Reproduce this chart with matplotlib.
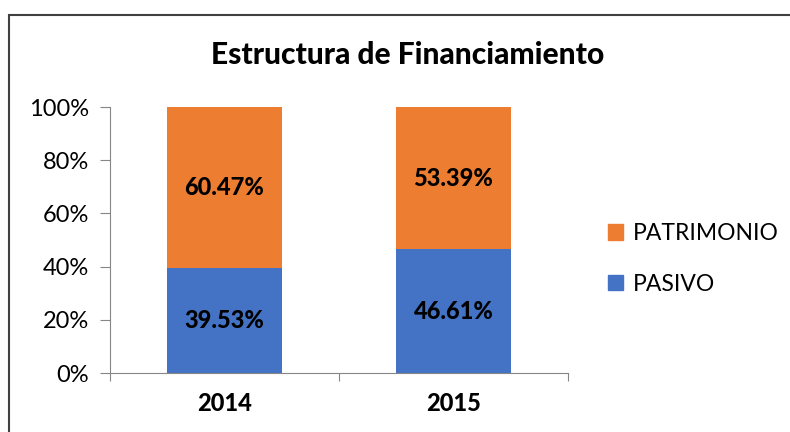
import matplotlib.pyplot as plt
from matplotlib.patches import Rectangle, Patch

years = ["2014", "2015"]
pasivo = [39.53, 46.61]
patrimonio = [60.47, 53.39]
c_pasivo = "#4472C4"
c_patr = "#ED7D31"

plt.rcParams['font.family'] = ['Lato', 'DejaVu Sans']

fig = plt.figure(figsize=(7.9, 4.32), dpi=100)
ax = fig.add_axes([110/790, 59/432, 458/790, 266/432])

x = range(len(years))
ax.bar(x, pasivo, width=0.5, color=c_pasivo)
ax.bar(x, patrimonio, width=0.5, bottom=pasivo, color=c_patr)

for i in x:
    ax.text(i, pasivo[i]/2, f"{pasivo[i]:.2f}%", ha="center", va="center",
            fontsize=17, fontweight="black")
    ax.text(i, pasivo[i] + patrimonio[i]/2, f"{patrimonio[i]:.2f}%", ha="center",
            va="center", fontsize=17, fontweight="black")

ax.set_xlim(-0.5, 1.5)
ax.set_ylim(0, 100)
ax.set_yticks([0, 20, 40, 60, 80, 100])
ax.set_yticklabels([f"{v}%" for v in [0, 20, 40, 60, 80, 100]], fontsize=17)
ax.set_xticks([-0.5, 0.5, 1.5])
ax.set_xticklabels([])
ax.set_xticks([0, 1], minor=True)
ax.set_xticklabels(years, minor=True, fontsize=17, fontweight="black")
ax.tick_params(axis="x", which="minor", length=0, pad=14)
ax.tick_params(axis="x", which="major", length=6, color="#868686", direction="out")
ax.tick_params(axis="y", length=7, color="#868686", pad=8)
for s in ["top", "right"]:
    ax.spines[s].set_visible(False)
ax.spines["left"].set_color("#868686")
ax.spines["bottom"].set_color("#868686")

fig.text(408/790, 1 - 55/432, "Estructura de Financiamiento", ha="center",
         va="center", fontsize=21.5, fontweight="black")

handles = [Patch(color=c_patr, label="PATRIMONIO"), Patch(color=c_pasivo, label="PASIVO")]
fig.legend(handles=handles, loc="center left", bbox_to_anchor=(587/790, 1 - 259/432),
           frameon=False, fontsize=16.5, handlelength=0.65, handleheight=0.65,
           labelspacing=1.3, handletextpad=0.45)

fig.patches.append(Rectangle((9/790, -0.1), 1.2, 1 - 15/432 + 0.1, transform=fig.transFigure,
                             fill=False, edgecolor="#404040", linewidth=1.5))

fig.savefig("out.png", dpi=100)
